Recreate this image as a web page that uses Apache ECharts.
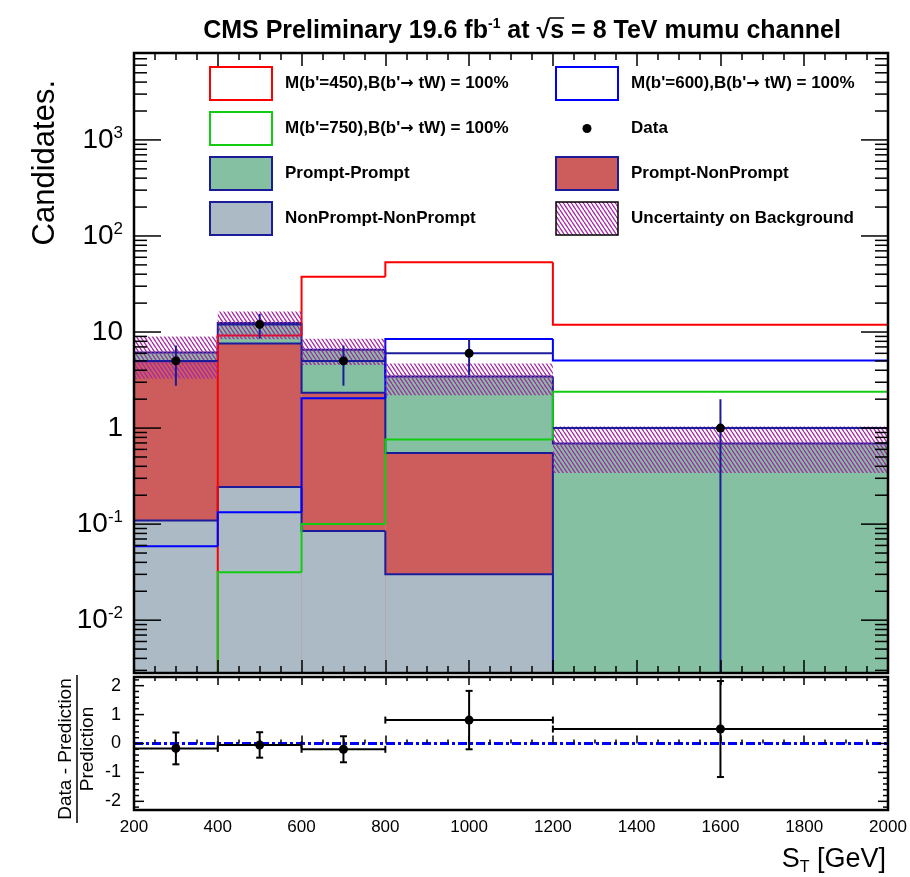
<!DOCTYPE html>
<html>
<head>
<meta charset="utf-8">
<script src="https://cdn.jsdelivr.net/npm/echarts@6/dist/echarts.min.js"></script>
<style>
  html, body { margin: 0; padding: 0; background: #ffffff; }
  #chart { width: 910px; height: 877px; }
</style>
</head>
<body>
<div id="chart"></div>
<script>
// S_T distribution in the mumu channel: background stack, b' signal hypotheses, data and ratio.

// ---- binned values -------------------------------------------------------
const binEdges = [200, 400, 600, 800, 1200, 2000];

const nonPromptNonPrompt = [0.109, 0.243, 0.085, 0.030, 0];
const promptNonPrompt    = [4.84, 7.36, 2.25, 0.52, 0];
const promptPrompt       = [1.17, 4.80, 4.19, 2.89, 0.69];
const bkgUncertainty     = [2.85, 4.0, 2.0, 1.25, 0.35];

const signalM450 = [0, 9.2, 37.6, 53.3, 11.9];
const signalM600 = [0.059, 0.133, 2.04, 8.45, 5.05];
const signalM750 = [0, 0.0316, 0.100, 0.762, 2.39];

const dataCounts = [5, 12, 5, 6, 1];
const dataErrors = [2.24, 3.46, 2.24, 2.45, 1.0];

const ratioValues = [-0.17, -0.05, -0.20, 0.81, 0.50];
const ratioErrors = [0.55, 0.44, 0.45, 1.01, 1.66];

// ---- tick labels -----------------------------------------------------------
const xTickValues = [200, 400, 600, 800, 1000, 1200, 1400, 1600, 1800, 2000];
const yLogExponents = [-2, -1, 0, 1, 2, 3];
const ratioTickValues = [-2, -1, 0, 1, 2];

// ---- text ------------------------------------------------------------------
const legendEntries = [
  { label: "M(b'=450),B(b'\u2192 tW) = 100%", kind: 'line', key: 'm450' },
  { label: "M(b'=600),B(b'\u2192 tW) = 100%", kind: 'line', key: 'm600' },
  { label: "M(b'=750),B(b'\u2192 tW) = 100%", kind: 'line', key: 'm750' },
  { label: 'Data', kind: 'marker', key: 'data' },
  { label: 'Prompt-Prompt', kind: 'fill', key: 'pp' },
  { label: 'Prompt-NonPrompt', kind: 'fill', key: 'pnp' },
  { label: 'NonPrompt-NonPrompt', kind: 'fill', key: 'npnp' },
  { label: 'Uncertainty on Background', kind: 'hatch', key: 'unc' }
];

// ---- styling ---------------------------------------------------------------
const FONT = '"Liberation Sans", Arial, Helvetica, sans-serif';
const SYMBOL_FONT = '"DejaVu Sans", "Liberation Sans", sans-serif';
const Y_MIN = Math.pow(10, -2.55);
const Y_MAX = Math.pow(10, 3.905);
const R_MIN = -2.3, R_MAX = 2.3;
const NAVY = '#1c1c9a';
const COLORS = {
  m450: '#ff0000', m600: '#0000ff', m750: '#12cc12',
  pp: '#84c0a1', pnp: '#cd5c5c', npnp: '#abbac5',
  hatch: '#a52aa5'
};

// diagonal hatch used for the background uncertainty
function makeHatch() {
  const c = document.createElement('canvas');
  const w = 4, h = 6;
  c.width = w; c.height = h;
  const g = c.getContext('2d');
  g.strokeStyle = COLORS.hatch;
  g.lineWidth = 1.3;
  g.beginPath();
  for (let k = -1; k <= 1; k++) {
    g.moveTo(k * w, 0);
    g.lineTo(k * w + w, h);
  }
  g.stroke();
  return { image: c, repeat: 'repeat' };
}
const HATCH = makeHatch();

// cumulative stack levels
const cumGray = nonPromptNonPrompt.slice();
const cumRed = nonPromptNonPrompt.map((v, i) => v + promptNonPrompt[i]);
const cumTotal = cumRed.map((v, i) => v + promptPrompt[i]);

const floorY = v => (v > 0 ? Math.max(v, Y_MIN) : Y_MIN);

// histogram drawn bin by bin: optional fill plus the step contour
function histSeries(name, values, stroke, fill, z) {
  return {
    type: 'custom', name, xAxisIndex: 0, yAxisIndex: 0, z, clip: true, silent: true,
    data: values.map((v, i) => [binEdges[i], binEdges[i + 1], v, i === 0 ? 0 : values[i - 1]]),
    encode: { x: [0, 1], y: 2 },
    renderItem(params, api) {
      const x0 = api.value(0), x1 = api.value(1), raw = api.value(2);
      const v = floorY(raw), prev = floorY(api.value(3));
      const a = api.coord([x0, v]);
      const b = api.coord([x1, v]);
      const p = api.coord([x0, prev]);
      const base = api.coord([x0, Y_MIN]);
      const children = [];
      if (fill && raw > 0) {
        children.push({ type: 'rect', shape: { x: a[0], y: a[1], width: b[0] - a[0], height: base[1] - a[1] },
          style: { fill } });
      }
      children.push({ type: 'polyline', shape: { points: [p, a, b] },
        style: { stroke, lineWidth: 2, fill: null } });
      return { type: 'group', children };
    }
  };
}

// hatched band for the background uncertainty
const bandSeries = {
  type: 'custom', name: 'Uncertainty on Background', xAxisIndex: 0, yAxisIndex: 0, z: 4, clip: true, silent: true,
  data: cumTotal.map((v, i) => [binEdges[i], binEdges[i + 1], v, bkgUncertainty[i]]),
  encode: { x: [0, 1], y: 2 },
  renderItem(params, api) {
    const v = api.value(2), e = api.value(3);
    const a = api.coord([api.value(0), v + e]);
    const b = api.coord([api.value(1), floorY(v - e)]);
    return { type: 'rect', shape: { x: a[0], y: a[1], width: b[0] - a[0], height: b[1] - a[1] },
      style: { fill: HATCH } };
  }
};

// data points with bin-width and statistical error bars
const dataSeries = {
  type: 'custom', name: 'Data', xAxisIndex: 0, yAxisIndex: 0, z: 5, clip: true, silent: true,
  data: dataCounts.map((n, i) => [binEdges[i], binEdges[i + 1], n, dataErrors[i]]),
  encode: { x: [0, 1], y: 2 },
  renderItem(params, api) {
    const x0 = api.value(0), x1 = api.value(1), v = api.value(2), e = api.value(3);
    const xc = (x0 + x1) / 2;
    const c = api.coord([xc, v]);
    const l = api.coord([x0, v]);
    const r = api.coord([x1, v]);
    const u = api.coord([xc, v + e]);
    const d = api.coord([xc, floorY(v - e)]);
    const ls = { stroke: NAVY, lineWidth: 2 };
    return { type: 'group', children: [
      { type: 'line', shape: { x1: l[0], y1: l[1], x2: r[0], y2: r[1] }, style: ls },
      { type: 'line', shape: { x1: u[0], y1: u[1], x2: d[0], y2: d[1] }, style: ls },
      { type: 'circle', shape: { cx: c[0], cy: c[1], r: 4.5 }, style: { fill: '#000' } }
    ] };
  }
};

// ratio points with capped error bars
const ratioSeries = {
  type: 'custom', name: 'Ratio', xAxisIndex: 2, yAxisIndex: 1, z: 5, clip: true, silent: true,
  data: ratioValues.map((r, i) => [binEdges[i], binEdges[i + 1], r, ratioErrors[i]]),
  encode: { x: [0, 1], y: 2 },
  renderItem(params, api) {
    const x0 = api.value(0), x1 = api.value(1), v = api.value(2), e = api.value(3);
    const xc = (x0 + x1) / 2;
    const c = api.coord([xc, v]);
    const l = api.coord([x0, v]);
    const r = api.coord([x1, v]);
    const u = api.coord([xc, v + e]);
    const d = api.coord([xc, v - e]);
    const ls = { stroke: '#000', lineWidth: 2 };
    const cap = 3.5;
    return { type: 'group', children: [
      { type: 'line', shape: { x1: l[0], y1: l[1], x2: r[0], y2: r[1] }, style: ls },
      { type: 'line', shape: { x1: l[0], y1: l[1] - cap, x2: l[0], y2: l[1] + cap }, style: ls },
      { type: 'line', shape: { x1: r[0], y1: r[1] - cap, x2: r[0], y2: r[1] + cap }, style: ls },
      { type: 'line', shape: { x1: u[0], y1: u[1], x2: d[0], y2: d[1] }, style: ls },
      { type: 'line', shape: { x1: u[0] - cap, y1: u[1], x2: u[0] + cap, y2: u[1] }, style: ls },
      { type: 'line', shape: { x1: d[0] - cap, y1: d[1], x2: d[0] + cap, y2: d[1] }, style: ls },
      { type: 'circle', shape: { cx: c[0], cy: c[1], r: 4.5 }, style: { fill: '#000' } }
    ] };
  }
};

// y tick marks on both vertical edges of a panel
function yTickSeries(xAxisIndex, yAxisIndex, ticks, majorLen, minorLen) {
  return {
    type: 'custom', xAxisIndex, yAxisIndex, z: 6, clip: false, silent: true,
    data: ticks,
    encode: { x: 0, y: 1 },
    renderItem(params, api) {
      const cs = params.coordSys;
      const y = api.coord([api.value(0), api.value(1)])[1];
      const len = api.value(2) ? majorLen : minorLen;
      const ls = { stroke: '#000', lineWidth: 1.5 };
      return { type: 'group', children: [
        { type: 'line', shape: { x1: cs.x, y1: y, x2: cs.x + len, y2: y }, style: ls },
        { type: 'line', shape: { x1: cs.x + cs.width - len, y1: y, x2: cs.x + cs.width, y2: y }, style: ls }
      ] };
    }
  };
}
const logTicks = [];
for (let e = -3; e <= 3; e++) {
  for (let k = 1; k <= 9; k++) {
    const v = k * Math.pow(10, e);
    if (v > Y_MIN && v < Y_MAX) logTicks.push([binEdges[0], v, k === 1 ? 1 : 0]);
  }
}
const ratioTicks = [];
for (let t = -11; t <= 11; t++) {
  const v = t / 5;
  ratioTicks.push([binEdges[0], v, t % 5 === 0 ? 1 : 0]);
}

// panel frame drawn above everything else
function frameSeries(xAxisIndex, yAxisIndex, yRef) {
  return {
    type: 'custom', xAxisIndex, yAxisIndex, z: 7, clip: false, silent: true,
    data: [[binEdges[0], yRef]],
    encode: { x: 0, y: 1 },
    renderItem(params) {
      const cs = params.coordSys;
      return { type: 'rect', shape: { x: cs.x, y: cs.y, width: cs.width, height: cs.height },
        style: { fill: null, stroke: '#000', lineWidth: 2.5 } };
    }
  };
}

function xAxisDef(gridIndex, position, labels, majorLen, minorLen) {
  return {
    gridIndex, type: 'value', position, z: 6,
    min: xTickValues[0], max: xTickValues[xTickValues.length - 1],
    interval: xTickValues[1] - xTickValues[0],
    axisLine: { show: false },
    splitLine: { show: false },
    axisTick: { inside: true, length: majorLen, lineStyle: { color: '#000', width: 1.5 } },
    minorTick: { show: true, splitNumber: 4, length: minorLen, lineStyle: { color: '#000', width: 1.5 } },
    axisLabel: labels ? {
      show: true, margin: 9, color: '#000', fontSize: 17, fontFamily: FONT,
      formatter: v => (xTickValues.includes(v) ? String(v) : '')
    } : { show: false }
  };
}

// title widths, measured so the overline sits over the "s" of sqrt(s)
const measureCtx = document.createElement('canvas').getContext('2d');
function textWidth(str, size) {
  measureCtx.font = 'bold ' + size + 'px ' + FONT;
  return measureCtx.measureText(str).width;
}
const TITLE_SIZE = 25, TITLE_SUP = 14;
const titleParts = ['CMS Preliminary 19.6 fb', '-1', ' at \u221A', 's', ' = 8 TeV mumu channel'];
const titleW = [
  textWidth(titleParts[0], TITLE_SIZE), textWidth(titleParts[1], TITLE_SUP),
  textWidth(titleParts[2], TITLE_SIZE), textWidth(titleParts[3], TITLE_SIZE),
  textWidth(titleParts[4], TITLE_SIZE)
];
const titleTotal = titleW.reduce((a, b) => a + b, 0);
const titleX = 522 - titleTotal / 2;
const titleY = 31;
const overlineX0 = titleX + titleW[0] + titleW[1] + titleW[2] - 1;
const overlineX1 = overlineX0 + titleW[3] + 1;

// legend, two columns
const LEGEND_SIZE = 17;
const legendCols = [210, 556];
const legendTop = 67, legendPitch = 45, boxW = 62, boxH = 33;
const legendGraphics = [];
legendEntries.forEach((en, i) => {
  const bx = legendCols[i % 2];
  const by = legendTop + Math.floor(i / 2) * legendPitch;
  if (en.kind === 'marker') {
    legendGraphics.push({ type: 'circle', shape: { cx: bx + boxW / 2, cy: by + boxH / 2, r: 4.5 }, style: { fill: '#000' } });
  } else if (en.kind === 'line') {
    legendGraphics.push({ type: 'rect', shape: { x: bx, y: by, width: boxW, height: boxH },
      style: { fill: '#fff', stroke: COLORS[en.key], lineWidth: 2 } });
  } else if (en.kind === 'fill') {
    legendGraphics.push({ type: 'rect', shape: { x: bx, y: by, width: boxW, height: boxH },
      style: { fill: COLORS[en.key], stroke: NAVY, lineWidth: 2 } });
  } else {
    legendGraphics.push({ type: 'rect', shape: { x: bx, y: by, width: boxW, height: boxH },
      style: { fill: HATCH, stroke: '#000', lineWidth: 1.5 } });
  }
  const pieces = en.label.split('\u2192');
  const richText = pieces.map(p => '{t|' + p + '}').join('{a|\u2192}');
  legendGraphics.push({ type: 'text', x: bx + 75, y: by + boxH / 2,
    style: { text: richText,
      align: 'left', verticalAlign: 'middle', textAlign: 'left', textVerticalAlign: 'middle',
      rich: {
        t: { fontSize: LEGEND_SIZE, fontWeight: 'bold', fontFamily: FONT, lineHeight: 20, fill: '#000', color: '#000' },
        a: { fontSize: LEGEND_SIZE - 1, fontWeight: 'bold', fontFamily: SYMBOL_FONT, lineHeight: 20, fill: '#000', color: '#000' }
      } } });
});

const chart = echarts.init(document.getElementById('chart'), null, { renderer: 'canvas' });

chart.setOption({
  animation: false,
  backgroundColor: '#ffffff',
  textStyle: { fontFamily: FONT },
  grid: [
    { left: 134, top: 53, width: 754, height: 620 },
    { left: 134, top: 677, width: 754, height: 133 }
  ],
  xAxis: [
    xAxisDef(0, 'bottom', false, 13, 7),
    xAxisDef(0, 'top', false, 13, 7),
    xAxisDef(1, 'bottom', true, 8, 4),
    xAxisDef(1, 'top', false, 8, 4)
  ],
  yAxis: [
    {
      gridIndex: 0, type: 'log', logBase: 10, min: Y_MIN, max: Y_MAX,
      axisLine: { show: false }, axisTick: { show: false }, splitLine: { show: false },
      axisLabel: {
        margin: 11, color: '#000',
        formatter: v => {
          const lv = Math.log10(v);
          const e = Math.round(lv);
          if (Math.abs(lv - e) > 1e-6 || !yLogExponents.includes(e)) return '';
          if (e === 0) return '{b|1}';
          if (e === 1) return '{b|10}';
          return '{b|10}{s|' + e + '}';
        },
        rich: {
          b: { fontSize: 28, lineHeight: 30, fontFamily: FONT, color: '#000' },
          s: { fontSize: 17, lineHeight: 17, fontFamily: FONT, color: '#000', verticalAlign: 'top' }
        }
      }
    },
    {
      gridIndex: 1, type: 'value', min: R_MIN, max: R_MAX,
      axisLine: { show: false }, axisTick: { show: false }, splitLine: { show: false },
      axisLabel: {
        margin: 13, color: '#000', fontSize: 18, fontFamily: FONT,
        formatter: v => {
          const r = Math.round(v * 1000) / 1000;
          return ratioTickValues.includes(r) ? String(r) : '';
        }
      }
    }
  ],
  graphic: [
    {
      type: 'text', x: titleX, y: titleY,
      style: {
        text: '{t|' + titleParts[0] + '}{u|' + titleParts[1] + '}{t|' + titleParts[2] + '}{t|' +
          titleParts[3] + '}{t|' + titleParts[4] + '}',
        align: 'left', verticalAlign: 'middle', textAlign: 'left', textVerticalAlign: 'middle',
        rich: {
          t: { fontSize: TITLE_SIZE, fontWeight: 'bold', fontFamily: FONT, lineHeight: 28, fill: '#000', color: '#000' },
          u: { fontSize: TITLE_SUP, fontWeight: 'bold', fontFamily: FONT, lineHeight: 14, verticalAlign: 'top', fill: '#000', color: '#000' }
        }
      }
    },
    {
      type: 'line', shape: { x1: overlineX0, y1: titleY - 13, x2: overlineX1, y2: titleY - 13 },
      style: { stroke: '#000', lineWidth: 1.5 }
    },
    {
      type: 'text', x: 45, y: 80, rotation: Math.PI / 2,
      style: { text: 'Candidates.', font: '31px ' + FONT, fill: '#000',
        align: 'right', verticalAlign: 'middle', textAlign: 'right', textVerticalAlign: 'middle' }
    },
    {
      type: 'group', x: 77, y: 749, rotation: Math.PI / 2,
      children: [
        { type: 'text', x: 0, y: -11, style: { text: 'Data - Prediction', font: '19px ' + FONT, fill: '#000',
          align: 'center', verticalAlign: 'middle', textAlign: 'center', textVerticalAlign: 'middle' } },
        { type: 'line', shape: { x1: -74, y1: 0, x2: 74, y2: 0 }, style: { stroke: '#000', lineWidth: 1.5 } },
        { type: 'text', x: 0, y: 11, style: { text: 'Prediction', font: '19px ' + FONT, fill: '#000',
          align: 'center', verticalAlign: 'middle', textAlign: 'center', textVerticalAlign: 'middle' } }
      ]
    },
    {
      type: 'text', x: 886, y: 860,
      style: {
        text: '{m|S}{d|T}{m| [GeV]}',
        align: 'right', verticalAlign: 'middle', textAlign: 'right', textVerticalAlign: 'middle',
        rich: {
          m: { fontSize: 27, fontFamily: FONT, lineHeight: 32, fill: '#000', color: '#000' },
          d: { fontSize: 16, fontFamily: FONT, lineHeight: 14, verticalAlign: 'bottom', fill: '#000', color: '#000' }
        }
      }
    },
    ...legendGraphics
  ],
  series: [
    histSeries('Prompt-Prompt', cumTotal, NAVY, COLORS.pp, 2),
    histSeries('Prompt-NonPrompt', cumRed, NAVY, COLORS.pnp, 2),
    histSeries('NonPrompt-NonPrompt', cumGray, NAVY, COLORS.npnp, 2),
    histSeries("M(b'=450)", signalM450, COLORS.m450, null, 3),
    histSeries("M(b'=600)", signalM600, COLORS.m600, null, 3),
    histSeries("M(b'=750)", signalM750, COLORS.m750, null, 3),
    bandSeries,
    dataSeries,
    yTickSeries(0, 0, logTicks, 27, 13),
    frameSeries(0, 0, 1),
    {
      type: 'line', name: 'Zero', xAxisIndex: 2, yAxisIndex: 1, z: 3, silent: true,
      symbol: 'none', data: [[binEdges[0], 0], [binEdges[binEdges.length - 1], 0]],
      lineStyle: { color: '#0000ff', width: 3, type: [9, 3, 3, 3] }
    },
    ratioSeries,
    yTickSeries(2, 1, ratioTicks, 10, 5),
    frameSeries(2, 1, 0)
  ]
});
</script>
</body>
</html>
